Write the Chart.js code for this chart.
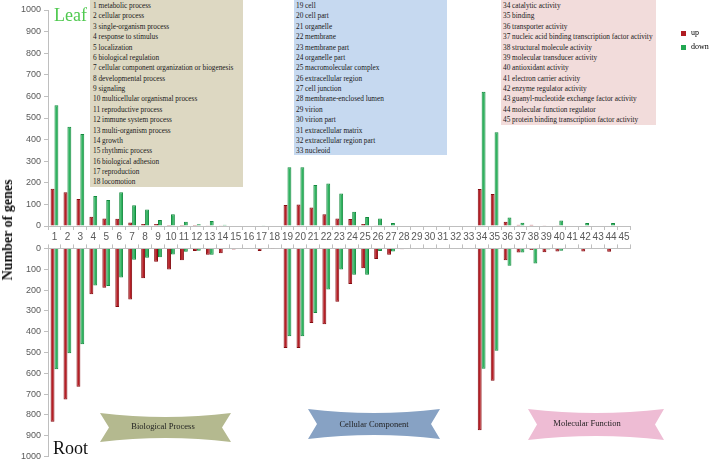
<!DOCTYPE html>
<html>
<head>
  <meta charset="UTF-8" />
  <title>GO classification - Leaf / Root</title>
  <script src="https://cdn.jsdelivr.net/npm/chart.js"></script>
  <style>
    body { margin: 0; width: 711px; height: 465px; position: relative; overflow: hidden; background: #fff; }
    canvas { position: absolute; left: 0; }
    #topChart { top: 0; }
    #botChart { top: 240px; }
    .box {
      position: absolute; top: 0;
      font-family: 'Liberation Serif', serif;
      font-size: 7.3px; line-height: 10.38px;
      color: #1a1a1a; padding-top: 1px; box-sizing: border-box;
      white-space: nowrap; overflow: hidden;
    }
    .tag { position: absolute; font-family: 'Liberation Serif', serif; }
    #ylabel {
      position: absolute; left: 8px; top: 230px;
      transform: translate(-50%, -50%) rotate(-90deg);
      font: bold 14px 'Liberation Serif', serif; white-space: nowrap; color: #111;
    }
    svg { position: absolute; left: 0; top: 0; }
  </style>
</head>
<body>
  <canvas id="topChart" width="711" height="245"></canvas>
  <canvas id="botChart" width="711" height="225"></canvas>

  <div class="box" id="bp" style="left:90px;width:153px;height:187px;background:#ddd8c2;padding-left:3px;"></div>
  <div class="box" id="cc" style="left:294px;width:153px;height:155px;background:#c6d9f0;padding-left:2px;"></div>
  <div class="box" id="mf" style="left:501px;width:155px;height:125px;background:#f2dcdb;padding-left:2px;"></div>

  <div class="tag" style="left:54px;top:5px;font-size:18px;color:#4fc94f;">Leaf</div>
  <div class="tag" style="left:53px;top:438px;font-size:18px;color:#111;">Root</div>
  <div id="ylabel">Number of genes</div>

  <div style="position:absolute;left:681px;top:31px;width:5px;height:5px;background:#b01c22;"></div>
  <div class="tag" style="left:691px;top:28px;font-size:8px;">up</div>
  <div style="position:absolute;left:681px;top:45px;width:5px;height:5px;background:#22a852;"></div>
  <div class="tag" style="left:691px;top:42px;font-size:8px;">down</div>

  <svg width="711" height="465" id="ribbons"></svg>

  <script>
    const categories = Array.from({ length: 45 }, (_, i) => String(i + 1));

    const goTerms = [
      'metabolic process', 'cellular process', 'single-organism process', 'response to stimulus',
      'localization', 'biological regulation', 'cellular component organization or biogenesis',
      'developmental process', 'signaling', 'multicellular organismal process', 'reproductive process',
      'immune system process', 'multi-organism process', 'growth', 'rhythmic process',
      'biological adhesion', 'reproduction', 'locomotion',
      'cell', 'cell part', 'organelle', 'membrane', 'membrane part', 'organelle part',
      'macromolecular complex', 'extracellular region', 'cell junction', 'membrane-enclosed lumen',
      'virion', 'virion part', 'extracellular matrix', 'extracellular region part', 'nucleoid',
      'catalytic activity', 'binding', 'transporter activity',
      'nucleic acid binding transcription factor activity', 'structural molecule activity',
      'molecular transducer activity', 'antioxidant activity', 'electron carrier activity',
      'enzyme regulator activity', 'guanyl-nucleotide exchange factor activity',
      'molecular function regulator', 'protein binding transcription factor activity'
    ];

    // leaf (upper panel)
    const leafUp = [173, 156, 125, 43, 35, 34, 16, 9, 9, 5, 5, 5, 4, 1, 0, 0, 0, 0,
                    97, 100, 86, 54, 35, 32, 9, 3, 2, 0, 0, 0, 0, 0, 0,
                    171, 148, 20, 6, 6, 3, 1, 0, 0, 0, 0, 0];
    const leafDown = [559, 460, 426, 139, 120, 156, 96, 76, 28, 54, 20, 8, 23, 6, 0, 0, 3, 0,
                      272, 272, 190, 197, 151, 66, 42, 35, 14, 0, 0, 0, 0, 0, 0,
                      622, 434, 39, 15, 2, 2, 25, 0, 14, 0, 14, 0];
    // root (lower panel, drawn downwards)
    const rootUp = [833, 726, 664, 220, 189, 281, 245, 143, 64, 101, 57, 12, 30, 23, 5, 0, 12, 2,
                    478, 478, 358, 364, 256, 171, 95, 51, 31, 4, 0, 0, 0, 0, 0,
                    873, 636, 57, 20, 8, 19, 15, 0, 15, 0, 16, 0];
    const rootDown = [581, 504, 460, 178, 180, 140, 54, 45, 43, 29, 16, 11, 31, 0, 3, 0, 0, 0,
                      422, 422, 310, 197, 101, 127, 127, 12, 15, 0, 0, 0, 0, 0, 0,
                      578, 491, 83, 20, 73, 5, 11, 3, 0, 0, 0, 0];

    const groups = [
      { id: 'bp', name: 'Biological Process', from: 0, to: 18 },
      { id: 'cc', name: 'Cellular Component', from: 18, to: 33 },
      { id: 'mf', name: 'Molecular Function', from: 33, to: 45 }
    ];

    // term lists in the coloured boxes
    groups.forEach(g => {
      document.getElementById(g.id).innerHTML = goTerms.slice(g.from, g.to)
        .map((t, i) => `<div>${g.from + i + 1} ${t}</div>`).join('');
    });

    // banners under the lower panel
    const ribbons = [
      { x0: 100, x1: 231, y0: 413, y1: 442, tx: 163, ty: 427, fill: '#b4b98f' },
      { x0: 308, x1: 440, y0: 409, y1: 439, tx: 374, ty: 425, fill: '#87a2c4' },
      { x0: 528, x1: 664, y0: 409, y1: 440, tx: 587, ty: 424, fill: '#eebcd4' }
    ];
    const svg = document.getElementById('ribbons');
    ribbons.forEach((r, i) => {
      const mx = (r.x0 + r.x1) / 2, my = (r.y0 + r.y1) / 2, d = 9, s = 4;
      svg.innerHTML +=
        `<path d="M${r.x0} ${r.y0} Q${mx} ${r.y0 + 2 * s} ${r.x1} ${r.y0} L${r.x1 - d} ${my} L${r.x1} ${r.y1} ` +
        `Q${mx} ${r.y1 - 2 * s} ${r.x0} ${r.y1} L${r.x0 + d} ${my} Z" fill="${r.fill}"/>` +
        `<text x="${r.tx}" y="${r.ty}" text-anchor="middle" dominant-baseline="middle" ` +
        `font-family="Liberation Serif" font-size="8.5" fill="#1e1e1e">${groups[i].name}</text>`;
    });

    const RED = '#b51e25', RED_EDGE = '#850b10';
    const GREEN = '#2fb35f', GREEN_EDGE = '#138a3e';

    function barSet(label, data, fill, edge) {
      return {
        label, data,
        backgroundColor: fill, borderColor: edge, borderWidth: 1,
        categoryPercentage: 0.6, barPercentage: 1.0
      };
    }

    const axisGrey = '#bfbfbf';
    const tickFont = { family: 'Liberation Sans', size: 9 };

    function yAxis(reverse) {
      return {
        min: 0, max: 1000, reverse,
        afterFit: s => { s.width = 48; },
        ticks: { stepSize: 100, font: tickFont, color: '#595959', padding: 3, callback: v => String(v) },
        grid: { drawOnChartArea: false, tickLength: 4, color: axisGrey },
        border: { color: axisGrey }
      };
    }

    Chart.defaults.animation = false;

    new Chart(document.getElementById('topChart'), {
      type: 'bar',
      data: {
        labels: categories,
        datasets: [barSet('up', leafUp, RED, RED_EDGE), barSet('down', leafDown, GREEN, GREEN_EDGE)]
      },
      options: {
        responsive: false,
        layout: { padding: { top: 10, right: 80.5, left: 0, bottom: 0 } },
        plugins: { legend: { display: false }, tooltip: { enabled: false } },
        scales: {
          x: {
            afterFit: s => { s.height = 19; },
            ticks: { font: { family: 'Liberation Sans', size: 10 }, color: '#595959',
                     autoSkip: false, maxRotation: 0, padding: 1 },
            grid: { drawOnChartArea: false, tickLength: 4, color: axisGrey, offset: true },
            border: { color: axisGrey }
          },
          y: yAxis(false)
        }
      }
    });

    new Chart(document.getElementById('botChart'), {
      type: 'bar',
      data: {
        labels: categories,
        datasets: [barSet('up', rootUp, RED, RED_EDGE), barSet('down', rootDown, GREEN, GREEN_EDGE)]
      },
      options: {
        responsive: false,
        layout: { padding: { top: 0, right: 80.5, left: 0, bottom: 5 } },
        plugins: { legend: { display: false }, tooltip: { enabled: false } },
        scales: {
          x: {
            position: 'top',
            afterFit: s => { s.height = 5; },
            ticks: { display: false },
            grid: { drawOnChartArea: false, tickLength: 4, color: axisGrey, offset: true },
            border: { color: axisGrey }
          },
          y: yAxis(true)
        }
      }
    });
  </script>
</body>
</html>
